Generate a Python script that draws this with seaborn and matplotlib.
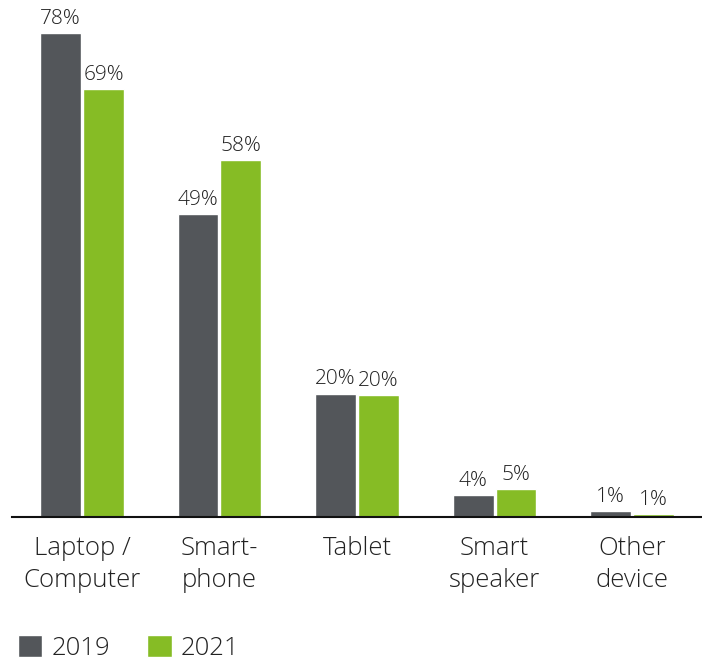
import pandas as pd
import matplotlib
matplotlib.use('Agg')
import matplotlib.pyplot as plt
import seaborn as sns
from matplotlib.patches import Patch

# data
categories = ['Laptop /\nComputer', 'Smart-\nphone', 'Tablet', 'Smart\nspeaker', 'Other\ndevice']
years = ['2019', '2021']
share_2019 = [78, 48.8, 19.9, 3.6, 1.0]
share_2021 = [69, 57.5, 19.6, 4.5, 0.5]
labels_2019 = ['78%', '49%', '20%', '4%', '1%']
labels_2021 = ['69%', '58%', '20%', '5%', '1%']

colors = {'2019': '#53565A', '2021': '#86BC25'}

df = pd.DataFrame({
    'device': categories * 2,
    'year': ['2019'] * len(categories) + ['2021'] * len(categories),
    'share': share_2019 + share_2021,
})

sns.set_style('white')
plt.rcParams['font.family'] = ['Open Sans', 'DejaVu Sans']
text_col = '#222222'

fig = plt.figure(figsize=(7.02, 6.61), dpi=100)
ax = fig.add_axes([12 / 702, (661 - 517) / 661, 690 / 702, 507 / 661])

sns.barplot(data=df, x='device', y='share', hue='year', palette=colors,
            width=0.625, gap=2 / 43, ax=ax, legend=False, saturation=1)

# value labels
for cont, labs in zip(ax.containers, [labels_2019, labels_2021]):
    ax.bar_label(cont, labels=labs, padding=3, fontsize=15, color=text_col,
                 fontweight='light', clip_on=False)

ax.set_xlim(-0.509, 4.509)
ax.set_ylim(0, 507 / 6.2)
ax.set_xlabel('')
ax.set_ylabel('')
ax.set_yticks([])
ax.tick_params(axis='x', length=0, pad=14, labelsize=18.5, labelcolor=text_col)
for lab in ax.get_xticklabels():
    lab.set_fontweight('light')
    lab.set_linespacing(1.36)
for side in ['left', 'right', 'top']:
    ax.spines[side].set_visible(False)
ax.spines['bottom'].set_color('#111111')
ax.spines['bottom'].set_linewidth(1.5)

handles = [Patch(facecolor=colors[y], label=y) for y in years]
leg = fig.legend(handles=handles, loc='lower left', bbox_to_anchor=(0.0, -0.027),
                 ncol=2, frameon=False, fontsize=18.5, handlelength=0.95, handleheight=0.95,
                 handletextpad=0.35, columnspacing=1.45, borderaxespad=0.3)
for t in leg.get_texts():
    t.set_color(text_col)
    t.set_fontweight('light')

fig.savefig('out.png', dpi=100)
